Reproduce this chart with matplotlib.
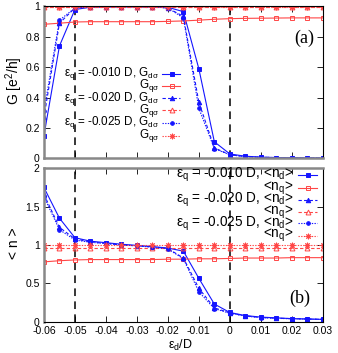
import matplotlib
matplotlib.use("Agg")
import matplotlib.pyplot as plt

plt.rcParams['font.family'] = ['Liberation Sans', 'DejaVu Sans']
plt.rcParams['mathtext.fontset'] = 'custom'
plt.rcParams['mathtext.rm'] = 'Liberation Sans'
plt.rcParams['mathtext.it'] = 'Liberation Sans'
plt.rcParams['mathtext.default'] = 'regular'

# x axis: eps_d / D
eps_d = [-0.06, -0.055, -0.05, -0.045, -0.04, -0.035, -0.03, -0.025, -0.02, -0.015,
         -0.01, -0.005, 0.0, 0.005, 0.01, 0.015, 0.02, 0.025, 0.03]

# panel (a): conductances
Gd_010 = [0.15, 0.74, 0.98, 0.995, 0.997, 0.998, 0.998, 0.998, 0.995, 0.966,
          0.59, 0.11, 0.03, 0.015, 0.009, 0.006, 0.005, 0.004, 0.003]
Gq_010 = [0.883, 0.89, 0.898, 0.9, 0.9, 0.9, 0.9, 0.9, 0.902, 0.905,
          0.91, 0.916, 0.92, 0.922, 0.923, 0.924, 0.925, 0.925, 0.925]
Gd_020 = [0.27, 0.89, 0.99, 0.998, 0.999, 0.999, 0.999, 0.998, 0.99, 0.935,
          0.37, 0.07, 0.025, 0.012, 0.008, 0.006, 0.004, 0.003, 0.003]
Gq_020 = [0.995, 0.995, 0.995, 0.995, 0.995, 0.995, 0.995, 0.995, 0.995, 0.995,
          0.995, 0.995, 0.995, 0.995, 0.995, 0.995, 0.995, 0.995, 0.995]
Gd_025 = [0.31, 0.91, 0.99, 0.998, 0.999, 0.999, 0.999, 0.998, 0.99, 0.925,
          0.33, 0.065, 0.024, 0.012, 0.008, 0.006, 0.004, 0.003, 0.003]
Gq_025 = [0.999, 0.999, 0.999, 0.999, 0.999, 0.999, 0.999, 0.999, 0.999, 0.999,
          0.999, 0.999, 0.999, 0.999, 0.999, 0.999, 0.999, 0.999, 0.999]

# panel (b): occupations
nd_010 = [1.75, 1.35, 1.095, 1.05, 1.03, 1.01, 0.995, 0.98, 0.96, 0.92,
          0.565, 0.23, 0.12, 0.08, 0.06, 0.05, 0.04, 0.035, 0.03]
nq_010 = [0.78, 0.795, 0.805, 0.81, 0.81, 0.81, 0.81, 0.81, 0.815, 0.815,
          0.82, 0.82, 0.825, 0.83, 0.83, 0.83, 0.835, 0.835, 0.835]
nd_020 = [1.66, 1.23, 1.08, 1.04, 1.02, 1.0, 0.99, 0.975, 0.955, 0.83,
          0.435, 0.18, 0.115, 0.075, 0.055, 0.045, 0.04, 0.035, 0.03]
nq_020 = [0.965, 0.965, 0.965, 0.965, 0.965, 0.965, 0.965, 0.965, 0.965, 0.965,
          0.965, 0.965, 0.965, 0.965, 0.965, 0.965, 0.965, 0.965, 0.965]
nd_025 = [1.63, 1.20, 1.065, 1.035, 1.02, 1.0, 0.99, 0.97, 0.95, 0.82,
          0.39, 0.17, 0.11, 0.072, 0.053, 0.044, 0.038, 0.034, 0.03]
nq_025 = [1.0, 1.0, 1.0, 1.0, 1.0, 1.0, 1.0, 1.0, 1.0, 1.0,
          1.0, 1.0, 1.0, 1.0, 1.0, 1.0, 1.0, 1.0, 1.0]

labels_q = ['-0.010', '-0.020', '-0.025']
xticks = [-0.06, -0.05, -0.04, -0.03, -0.02, -0.01, 0, 0.01, 0.02, 0.03]
xticklabels = ['-0.06', '-0.05', '-0.04', '-0.03', '-0.02', '-0.01', '0', '0.01', '0.02', '0.03']

blue = '#1515ff'
red = '#ff4646'
styles_d = [dict(ls='-', marker='s', mfc=blue, ms=3),
            dict(ls=(0, (3, 2)), marker='^', mfc=blue, ms=3.2),
            dict(ls=(0, (1.2, 1.2)), marker='o', mfc=blue, ms=2.6)]
styles_q = [dict(ls='-', marker='s', mfc='none', ms=3),
            dict(ls=(0, (3, 2)), marker='^', mfc='none', ms=3.5),
            dict(ls=(0, (1.2, 1.2)), marker=(8, 2, 0), mfc='none', ms=4)]

fig = plt.figure(figsize=(3.38, 3.53), dpi=100)
ax1 = fig.add_axes([0.130, 0.551, 0.825, 0.4306])
ax2 = fig.add_axes([0.130, 0.0887, 0.825, 0.4345])


def draw_panel(ax, d_series, q_series, names, leg_x, leg_y, leg_fs):
    for k in range(3):
        ax.plot(eps_d, d_series[k], color=blue, lw=0.8, mec=blue, mew=0.7, **styles_d[k])
        ax.plot(eps_d, q_series[k], color=red, lw=0.8, mec=red, mew=0.7, **styles_q[k])
    # gnuplot-like legend: text right-aligned, sample on the right
    tx, s0, s1, sm = leg_x
    for k in range(3):
        for j, (col, st, lab) in enumerate([(blue, styles_d[k], r'$\varepsilon_q$ = %s D, ' % labels_q[k] + names[0]),
                                            (red, styles_q[k], names[1])]):
            y = leg_y[2 * k + j]
            st2 = dict(st)
            mk = st2.pop('marker')
            ax.plot([s0, s1], [y, y], color=col, lw=0.8, transform=ax.transAxes,
                    ls=st2['ls'])
            ax.plot([sm], [y], color=col, marker=mk, mfc=st2['mfc'], ms=st2['ms'],
                    mec=col, mew=0.7, ls='none', transform=ax.transAxes)
            ax.text(tx, y, lab, transform=ax.transAxes, ha='right', va='center', fontsize=leg_fs)
    ax.axvline(-0.05, color='black', lw=1.1, ls=(0, (5, 3.5)), zorder=0)
    ax.axvline(0.0, color='black', lw=1.1, ls=(0, (5, 3.5)), zorder=0)
    ax.set_xlim(-0.06, 0.03)
    ax.set_xticks(xticks)
    ax.tick_params(direction='in', top=True, right=True, labelsize=7.5, length=4, width=0.6, pad=3)
    for side in ['top', 'right', 'bottom']:
        ax.spines[side].set_linewidth(0.8)
    ax.spines['left'].set_color('#888888')
    ax.spines['left'].set_linewidth(1.8)


draw_panel(ax1, [Gd_010, Gd_020, Gd_025], [Gq_010, Gq_020, Gq_025],
           [r'$G_{d\sigma}$', r'$G_{q\sigma}$'],
           (0.413, 0.425, 0.487, 0.458), [0.556, 0.477, 0.396, 0.319, 0.236, 0.15], 8.4)
draw_panel(ax2, [nd_010, nd_020, nd_025], [nq_010, nq_020, nq_025],
           [r'<n$_d$>', r'<n$_q$>'],
           (0.895, 0.910, 0.978, 0.946), [0.956, 0.872, 0.793, 0.715, 0.641, 0.561], 9.8)

ax1.set_ylim(0, 1)
ax1.set_yticks([0, 0.2, 0.4, 0.6, 0.8, 1])
ax1.set_yticklabels(['0', '0.2', '0.4', '0.6', '0.8', '1'])
ax1.tick_params(labelbottom=False)
ax1.spines['bottom'].set_color('#888888')
ax1.spines['bottom'].set_linewidth(1.8)
ax1.text(0.935, 0.79, '(a)', transform=ax1.transAxes, ha='center', va='center',
         fontsize=13, family='Liberation Serif')

ax2.set_ylim(0, 2)
ax2.set_yticks([0, 0.5, 1, 1.5, 2])
ax2.set_yticklabels(['0', '0.5', '1', '1.5', '2'])
ax2.set_xticklabels(xticklabels)
ax2.spines['top'].set_color('#888888')
ax2.spines['top'].set_linewidth(1.8)
ax2.text(0.917, 0.155, '(b)', transform=ax2.transAxes, ha='center', va='center',
         fontsize=13, family='Liberation Serif')

fig.text(0.042, 0.77, r'G [e$^2$/h]', rotation=90, ha='center', va='center', fontsize=10)
fig.text(0.042, 0.31, '< n >', rotation=90, ha='center', va='center', fontsize=10)
fig.text(0.535, 0.022, r'$\varepsilon_d$/D', ha='center', va='center', fontsize=9)

fig.savefig('out.png', dpi=100)
